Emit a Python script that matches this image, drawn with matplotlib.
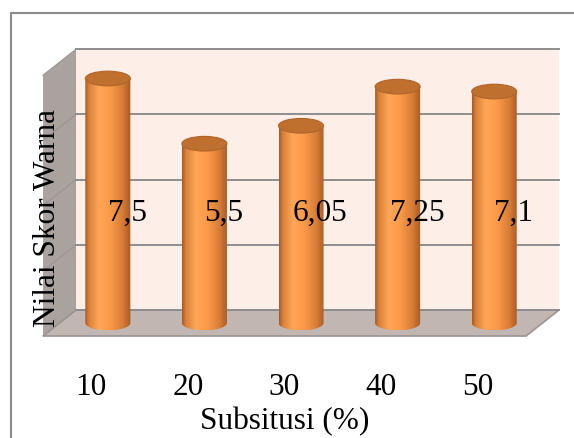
import numpy as np
import matplotlib.pyplot as plt
from matplotlib.patches import Polygon, Ellipse
from matplotlib.lines import Line2D
from matplotlib.colors import LinearSegmentedColormap

# data
kategori = ['10', '20', '30', '40', '50']
nilai = [7.5, 5.5, 6.05, 7.25, 7.1]
label_nilai = ['7,5', '5,5', '6,05', '7,25', '7,1']
y_grid = [0, 2, 4, 6, 8]

plt.rcParams['font.family'] = ['Liberation Serif', 'DejaVu Serif']

fig = plt.figure(figsize=(5.74, 4.39), dpi=100)
ax = fig.add_axes([0, 0, 1, 1])
ax.axis('off')

n = len(kategori)
ymax = y_grid[-1]
dx, dy = -0.3416, -0.7975   # offset of the front edge (3D depth)
x0, x1 = -0.5, n - 0.5
fs = 22.5

# back wall, side wall, floor
ax.add_patch(Polygon([(x0, 0), (x1, 0), (x1, ymax), (x0, ymax)],
                     fc='#fdeee7', ec='none', zorder=1))
ax.add_patch(Polygon([(x0, 0), (x0, ymax), (x0 + dx, ymax + dy), (x0 + dx, dy)],
                     fc='#aaa29f', ec='none', zorder=1))
ax.add_patch(Polygon([(x0, 0), (x1, 0), (x1 + dx, dy), (x0 + dx, dy)],
                     fc='#c1b6b2', ec='#9b9491', lw=1.2, zorder=1))

# gridlines
for g in y_grid:
    ax.plot([x0 + dx, x0], [g + dy, g], color='#9a9594', lw=0.8, zorder=2)
    ax.plot([x0, x1], [g, g], color='#8e8e8e', lw=1.4, zorder=2)

# cylinders
cmap = LinearSegmentedColormap.from_list('cyl', [
    (0.0, '#a65a22'), (0.08, '#d8803a'), (0.3, '#ffa656'),
    (0.55, '#fb9b4a'), (0.82, '#d67c36'), (1.0, '#a65a24')])
grad = np.linspace(0, 1, 200).reshape(1, -1)
w = 0.466
eh = 0.45
t = np.linspace(np.pi, 2 * np.pi, 60)

for i, v in enumerate(nilai):
    cx = i + dx / 2
    base = dy / 2
    top = v + dy / 2
    pts = [(cx - w / 2, top), (cx - w / 2, base)]
    pts += list(zip(cx + w / 2 * np.cos(t), base + eh / 2 * np.sin(t)))
    pts += [(cx + w / 2, top)]
    body = Polygon(pts, closed=True, fc='none', ec='none', zorder=3)
    ax.add_patch(body)
    im = ax.imshow(grad, cmap=cmap, aspect='auto', zorder=3,
                   extent=[cx - w / 2, cx + w / 2, base - eh / 2, top])
    im.set_clip_path(body)
    ax.add_patch(Ellipse((cx, top), w, eh, fc='#c0702e', ec='#b0642a',
                         lw=0.8, zorder=4))

# value labels
for i, s in enumerate(label_nilai):
    ax.text(i + dx / 2 + 0.2, 3.0, s, fontsize=fs, ha='center', va='center',
            zorder=5)

# category labels
for i, s in enumerate(kategori):
    ax.text(i + dx, -2.58, s, fontsize=fs, ha='center', va='baseline')

ax.text((n - 1) / 2 + dx, -3.62, 'Subsitusi (%)', fontsize=fs,
        ha='center', va='baseline')
ax.text(-0.8, 2.85, 'Nilai Skor Warna', fontsize=fs, rotation=90,
        ha='center', va='center', zorder=5)

ax.set_xlim(-1.287, 4.655)
ax.set_ylim(-3.926, 9.54)

# outer frame
fig.add_artist(Line2D([0.0186, 0.0186, 1.01], [-0.01, 0.968, 0.968],
                      transform=fig.transFigure, color='#8a8a8a', lw=1.5))

fig.savefig('out.png', dpi=100)
